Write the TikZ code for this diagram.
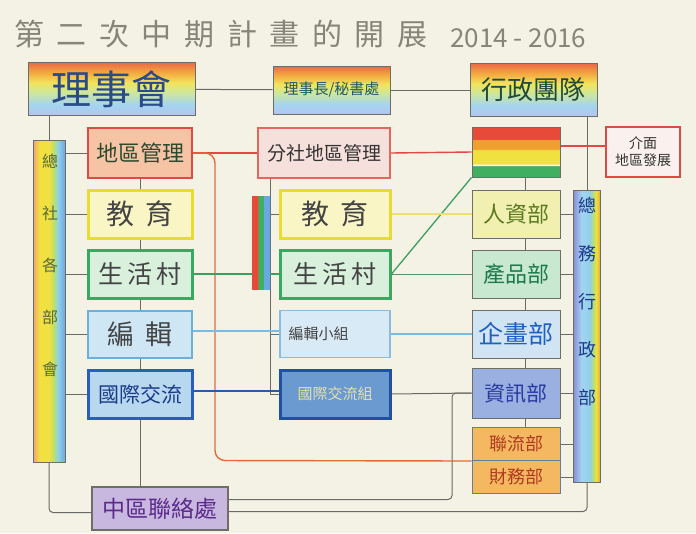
\documentclass[tikz,border=0pt]{standalone}
\usepackage{fontspec}
\newfontfamily\cjk{Noto Sans CJK TC}
\newfontfamily\cjkt[LetterSpace=42]{Noto Sans CJK TC}
\pgfdeclarelayer{paper}\pgfdeclarelayer{bg}\pgfsetlayers{paper,bg,main}
\definecolor{cPaper}{HTML}{F3F2E4}
\definecolor{cTitle}{HTML}{85857A}
\definecolor{cEdge}{HTML}{6E6E68}
\definecolor{cLine}{HTML}{6A6A66}
\definecolor{cLav}{HTML}{B4C4EE}
\definecolor{cLBlue}{HTML}{A4D4F0}
\definecolor{cYGreen}{HTML}{CFE79A}
\definecolor{cYellow}{HTML}{F2E45A}
\definecolor{cOrange}{HTML}{F3A640}
\definecolor{cROrange}{HTML}{EA6A45}
\definecolor{sRed}{HTML}{E84A3A}
\definecolor{sOrange}{HTML}{F0A030}
\definecolor{sYellow}{HTML}{F0E040}
\definecolor{sGreen}{HTML}{40B060}
\definecolor{bPink}{HTML}{F2A070}
\definecolor{bCyan}{HTML}{90D0EC}
\definecolor{bBlue}{HTML}{6AA8E0}
\definecolor{bGreen}{HTML}{B8E070}
\definecolor{bPurp}{HTML}{8A90D8}
\definecolor{cDBlue}{HTML}{2A4A8A}
\definecolor{cRed}{HTML}{E04A44}
\definecolor{cOrLine}{HTML}{E8683A}
\definecolor{cGreenLine}{HTML}{3AA060}
\definecolor{cYelLine}{HTML}{EEE070}
\definecolor{cLBLine}{HTML}{7ABCE0}
\definecolor{cDBLine}{HTML}{2A5AB0}
\definecolor{fLdq}{HTML}{F6C4A4}
\definecolor{tLdq}{HTML}{2B4A30}
\definecolor{fMdq}{HTML}{F6E0DC}
\definecolor{tDark}{HTML}{333333}
\definecolor{tGray}{HTML}{444444}
\definecolor{fJm}{HTML}{FAF0EE}
\definecolor{tLbar}{HTML}{5A6A3A}
\definecolor{tRbar}{HTML}{203A8A}
\definecolor{dYel}{HTML}{E8DC30}
\definecolor{fYel}{HTML}{FAF5C4}
\definecolor{dGrn}{HTML}{3AA860}
\definecolor{fGrn}{HTML}{D8F0DC}
\definecolor{dLB}{HTML}{6AB0DC}
\definecolor{fLB}{HTML}{CFE6F4}
\definecolor{dLB2}{HTML}{8ABCE0}
\definecolor{fLB2}{HTML}{D8EAF6}
\definecolor{dDB}{HTML}{2A60B0}
\definecolor{fDB}{HTML}{B8D8F0}
\definecolor{tDB}{HTML}{1A3A8A}
\definecolor{dDB2}{HTML}{2050A0}
\definecolor{fDB2}{HTML}{6A9AD0}
\definecolor{tDB2}{HTML}{E6E0B0}
\definecolor{fPur}{HTML}{C8B8E0}
\definecolor{tPur}{HTML}{5B2A8A}
\definecolor{fRr}{HTML}{F2F0B0}
\definecolor{tRr}{HTML}{5A7A20}
\definecolor{fRp}{HTML}{C8E8D0}
\definecolor{tRp}{HTML}{1A7A4A}
\definecolor{fRq}{HTML}{D0E4F4}
\definecolor{tRq}{HTML}{2060C0}
\definecolor{fRx}{HTML}{9AB0E0}
\definecolor{tRx}{HTML}{2A3AA0}
\definecolor{fOr}{HTML}{F4B860}
\definecolor{dOr}{HTML}{6A7A9A}
\definecolor{tOr}{HTML}{B03A20}
\definecolor{tMst}{HTML}{1E5A6A}
\definecolor{tXz}{HTML}{1F4A3A}
\pgfdeclareverticalshading{rainbowv}{100bp}{color(0bp)=(cLav); color(25bp)=(cLav); color(35bp)=(cLBlue); color(47bp)=(cYGreen); color(56bp)=(cYellow); color(66bp)=(cOrange); color(75bp)=(cROrange); color(100bp)=(cROrange)}
\pgfdeclareverticalshading{stripesv}{100bp}{color(0bp)=(sGreen); color(36bp)=(sGreen); color(37bp)=(white); color(38.5bp)=(sYellow); color(52bp)=(sYellow); color(53bp)=(sOrange); color(62bp)=(sOrange); color(63bp)=(sRed); color(100bp)=(sRed)}
\pgfdeclarehorizontalshading{lbarh}{100bp}{color(0bp)=(bPink); color(25bp)=(bPink); color(35bp)=(sYellow); color(50bp)=(sYellow); color(58bp)=(bGreen); color(64bp)=(bCyan); color(75bp)=(bBlue); color(100bp)=(bBlue)}
\pgfdeclarehorizontalshading{rbarh}{100bp}{color(0bp)=(bPurp); color(25bp)=(bPurp); color(40bp)=(cLBlue); color(55bp)=(bCyan); color(62bp)=(bGreen); color(67bp)=(sYellow); color(75bp)=(sOrange); color(100bp)=(sOrange)}
\pgfdeclarehorizontalshading{mbarh}{100bp}{color(0bp)=(sRed); color(41bp)=(sRed); color(42bp)=(sGreen); color(57bp)=(sGreen); color(58bp)=(bBlue); color(100bp)=(bBlue)}
\tikzset{
  bx/.style={draw=cEdge, line width=1pt, inner sep=0pt, align=center},
  conn/.style={draw=cLine, line width=1pt},
  redl/.style={draw=cRed, line width=1.4pt},
  orl/.style={draw=cOrLine, line width=1.4pt},
  greenl/.style={draw=cGreenLine, line width=1.3pt},
  yell/.style={draw=cYelLine, line width=2pt},
  lbl/.style={draw=cLBLine, line width=1.3pt},
  dbl/.style={draw=cDBLine, line width=1.4pt},
  fs/.style={font=\cjk\fontsize{#1}{#1}\selectfont},
}
\begin{document}
\begin{tikzpicture}[x=1pt,y=-1pt]
\useasboundingbox (0,0) rectangle (696,533);
\begin{pgfonlayer}{paper}
\fill[cPaper] (0,0) rectangle (696,533);
\end{pgfonlayer}
% title
\node[anchor=west, inner sep=0pt, text=cTitle, font=\cjkt\fontsize{30}{30}\selectfont] (title) at (14,34) {第二次中期計畫的開展};
\node[anchor=west, inner sep=0pt, text=cTitle, fs=26] (years) at (450,38) {2014 - 2016};
% top row
\node[bx, shading=rainbowv, minimum width=167pt, minimum height=53pt, text=cDBlue, fs=40] (ljsh) at (111.5,89) {理事會};
\node[bx, shading=rainbowv, minimum width=117pt, minimum height=48pt, text=tMst, fs=15] (mst) at (331.5,90) {理事長/秘書處};
\node[bx, shading=rainbowv, minimum width=127pt, minimum height=53pt, text=tXz, fs=26] (xz) at (533.5,90) {行政團隊};
% second row
\node[bx, draw=cRed, line width=2.5pt, fill=fLdq, minimum width=104pt, minimum height=50pt, text=tLdq, fs=22] (ldq) at (140,153) {地區管理};
\node[bx, draw=cRed!85, line width=2pt, fill=fMdq, minimum width=132pt, minimum height=50pt, text=tDark, fs=19] (mdq) at (324,153) {分社地區管理};
\node[bx, shading=stripesv, minimum width=88pt, minimum height=50pt] (rtop) at (516,152) {};
\node[bx, draw=cRed, line width=2.5pt, fill=fJm, minimum width=74pt, minimum height=50pt, text=tDark, font=\cjk\fontsize{14}{17}\selectfont] (jm) at (643,152) {介面\\地區發展};
% side bars
\node[bx, shading=lbarh, minimum width=32pt, minimum height=322pt] (lbar) at (49,301) {};
\node[inner sep=0pt, align=center, text=tLbar, font=\cjk\fontsize{16}{52}\selectfont] (lbartext) at (50,265) {總\\社\\各\\部\\會};
\node[bx, shading=rbarh, minimum width=27pt, minimum height=292pt] (rbar) at (587,336) {};
\node[inner sep=0pt, align=center, text=tRbar, font=\cjk\fontsize{18}{48}\selectfont] (rbartext) at (587,302) {總\\務\\行\\政\\部};
\node[bx, shading=mbarh, draw=none, minimum width=18pt, minimum height=93pt] (mbar) at (261,243) {};
% left column
\node[bx, draw=dYel, line width=3pt, fill=fYel, minimum width=104pt, minimum height=48pt, text=tGray, fs=28] (lj) at (140,214) {教\hspace{0.4em}育};
\node[bx, draw=dGrn, line width=3pt, fill=fGrn, minimum width=104pt, minimum height=48pt, text=tGray, fs=25] (ls) at (140,274) {生\hspace{0.15em}活\hspace{0.15em}村};
\node[bx, draw=dLB, line width=2pt, fill=fLB, minimum width=104pt, minimum height=47pt, text=tGray, fs=27] (lb) at (140,334) {編\hspace{0.4em}輯};
\node[bx, draw=dDB, line width=3pt, fill=fDB, minimum width=104pt, minimum height=48pt, text=tDB, fs=21] (lg) at (140,394) {國際交流};
\node[bx, fill=fPur, line width=1.5pt, minimum width=136pt, minimum height=43pt, text=tPur, fs=23] (purple) at (160,508.5) {中區聯絡處};
% middle column
\node[bx, draw=dYel, line width=3pt, fill=fYel, minimum width=110pt, minimum height=48pt, text=tGray, fs=28] (mj) at (335,214) {教\hspace{0.4em}育};
\node[bx, draw=dGrn, line width=3pt, fill=fGrn, minimum width=110pt, minimum height=48pt, text=tGray, fs=25] (ms) at (335,274) {生\hspace{0.15em}活\hspace{0.15em}村};
\node[bx, draw=dLB2, line width=1.5pt, fill=fLB2, minimum width=110pt, minimum height=47pt, text=tGray, fs=15] (mb) at (335,334) {編輯小組\hspace{2.2em}};
\node[bx, draw=dDB2, line width=3pt, fill=fDB2, minimum width=110pt, minimum height=48pt, text=tDB2, fs=15] (mg) at (335,394) {國際交流組};
% right column
\node[bx, fill=fRr, minimum width=88pt, minimum height=48pt, text=tRr, fs=22] (rr) at (516,214) {人資部};
\node[bx, fill=fRp, minimum width=88pt, minimum height=48pt, text=tRp, fs=22] (rp) at (516,274) {產品部};
\node[bx, fill=fRq, minimum width=88pt, minimum height=48pt, text=tRq, fs=25] (rq) at (516,334) {企畫部};
\node[bx, fill=fRx, minimum width=88pt, minimum height=50pt, text=tRx, fs=21] (rx) at (516,393) {資訊部};
\node[bx, fill=fOr, draw=dOr, minimum width=88pt, minimum height=33pt, text=tOr, fs=18] (rl) at (516,444) {聯流部};
\node[bx, fill=fOr, draw=dOr, minimum width=88pt, minimum height=33pt, text=tOr, fs=18] (rc) at (516,477) {財務部};
% connectors
\coordinate (kk) at (452,393);
\coordinate (rc1) at (215,460.5);
\coordinate (mv1) at (270,178);
\coordinate (mv2) at (270,394);
\begin{pgfonlayer}{bg}
\draw[conn] (ljsh) -- (mst);
\draw[conn] (mst) -- (xz);
\draw[conn] (lbar.north) -- (lbar.north |- ljsh.south);
\foreach \n in {ldq,lj,ls,lb,lg} \draw[conn] (lbar.east |- \n) -- (\n.west);
\draw[conn] (ldq) -- (lj) (lj) -- (ls) (ls) -- (lb) (lb) -- (lg);
\draw[conn] (lg.south) -- (lg.south |- purple.north);
\draw[conn, rounded corners=4pt] (lbar.south) |- ([yshift=-4pt]purple.west);
\draw[conn, rounded corners=4pt] ([yshift=-3pt]purple.east) -| (rbar.south);
\draw[conn, rounded corners=4pt] ([yshift=9pt]purple.east) -| (kk) -- (rx.west);
\draw[conn] (rbar.north) -- (rbar.north |- xz.south);
\foreach \n in {rr,rp,rq,rx,rl,rc} \draw[conn] (\n.east) -- (\n.east -| rbar.west);
\draw[conn] ([xshift=9pt]rtop.south) -- ([xshift=9pt]rr.north) ([xshift=9pt]rr.south) -- ([xshift=9pt]rp.north) ([xshift=9pt]rp.south) -- ([xshift=9pt]rq.north) ([xshift=9pt]rq.south) -- ([xshift=9pt]rx.north) ([xshift=9pt]rx.south) -- ([xshift=9pt]rl.north);
\draw[conn] (mv1) -- (mv2) -- (mg.west);
\foreach \n in {mj,ms,mb} \draw[conn] (\n.west -| mv1) -- (\n.west);
\draw[redl] (ldq.east) -- (mdq.west);
\draw[orl, rounded corners=10pt] (ldq.east) -| (rc1) -- (rl.south west);
\draw[redl] (mdq.east) -- (rtop.west);
\draw[redl] ([yshift=6pt]rtop.east) -- ([yshift=6pt]jm.west);
\draw[greenl] (ms.east) -- (rtop.south west);
\draw[yell] (mj.east) -- (rr.west);
\draw[conn, draw=cGreenLine!60!gray] (ms.east) -- (rp.west);
\draw[greenl] (ls.east) -- (ms.west);
\draw[lbl] ([yshift=3pt]lb.east) -- ([yshift=3pt]mb.west);
\draw[lbl] (mb.east) -- (rq.west);
\draw[dbl] ([yshift=3pt]lg.east) -- ([yshift=3pt]mg.west);
\draw[conn] (mg.east) -- (rx.west);
\end{pgfonlayer}
\end{tikzpicture}
\end{document}
